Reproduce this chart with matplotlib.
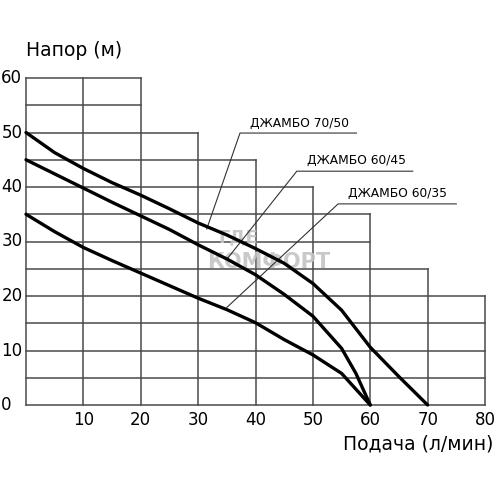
import matplotlib
matplotlib.use("Agg")
import matplotlib.pyplot as plt

# Grid staircase: top of each vertical grid line (x -> max head)
grid_x = [0, 10, 20, 30, 40, 50, 60, 70, 80]
grid_top = [60, 60, 60, 50, 45, 40, 35, 25, 20]
grid_y = [0, 5, 10, 15, 20, 25, 30, 35, 40, 45, 50, 55, 60]

x_tick_labels = ["10", "20", "30", "40", "50", "60", "70", "80"]
y_tick_labels = ["0", "10", "20", "30", "40", "50", "60"]

# Pump curves
q_7050 = [0, 5, 10, 15, 20, 25, 30, 35, 40, 45, 50, 55, 60, 65, 70]
h_7050 = [50, 46.3, 43.4, 40.8, 38.5, 36, 33.4, 31.2, 28.7, 26, 22.3, 17.4, 10.6, 5.2, 0]

q_6045 = [0, 5, 10, 15, 20, 25, 30, 35, 40, 45, 50, 55, 57.5, 60]
h_6045 = [45, 42.4, 39.8, 37.2, 34.7, 32.2, 29.4, 26.8, 23.9, 20.3, 16.3, 10.4, 5.8, 0]

q_6035 = [0, 5, 10, 15, 20, 25, 30, 35, 40, 45, 50, 55, 60]
h_6035 = [35, 31.8, 28.9, 26.5, 24.2, 21.9, 19.6, 17.5, 15.1, 12, 9.2, 5.8, 0]

labels = ["ДЖАМБО 70/50", "ДЖАМБО 60/45", "ДЖАМБО 60/35"]

fig = plt.figure(figsize=(4.96, 4.96), dpi=100)
ax = fig.add_axes([26/496, 91/496, 459/496, 327/496])
ax.set_xlim(0, 80)
ax.set_ylim(0, 60)
ax.axis("off")

gcol = "#4a4a4a"
for gx, top in zip(grid_x, grid_top):
    ax.plot([gx, gx], [0, top], color=gcol, lw=1.1, clip_on=False, zorder=1)
for gy in grid_y:
    ext = max(gx for gx, top in zip(grid_x, grid_top) if top >= gy)
    ax.plot([0, ext], [gy, gy], color=gcol, lw=1.1, clip_on=False, zorder=1)

# watermark
ax.text(33.5, 30.8, "ГДЕ", color="#c4c4c4", fontsize=13, fontweight="bold",
        ha="left", va="center", zorder=2, alpha=0.9)
ax.text(31.5, 26.2, "КОМФОРТ", color="#c4c4c4", fontsize=15, fontweight="bold",
        ha="left", va="center", zorder=2, alpha=0.9)

for q, h in [(q_7050, h_7050), (q_6045, h_6045), (q_6035, h_6035)]:
    ax.plot(q, h, color="black", lw=2.4, clip_on=False, zorder=3,
            solid_joinstyle="round", solid_capstyle="round")

# leader lines and labels
leaders = [
    ((31.5, 32.3), (37.3, 49.9), 57.6, 51.7),
    ((35.2, 27.0), (47.2, 42.9), 67.4, 44.8),
    ((35.0, 17.9), (54.4, 36.9), 75.0, 38.8),
]
for lab, (p0, p1, xend, ty) in zip(labels, leaders):
    ax.plot([p0[0], p1[0], xend], [p0[1], p1[1], p1[1]], color="#333333",
            lw=0.8, clip_on=False, zorder=2)
    ax.text(p1[0] + 1.8, ty, lab, fontsize=8.8, ha="left", va="center",
            color="black", zorder=4)

for i, lab in enumerate(x_tick_labels):
    ax.text((i + 1) * 10, -2.8, lab, fontsize=12, ha="center", va="center",
            color="black", clip_on=False)
for i, lab in enumerate(y_tick_labels):
    ax.text(-4.3, i * 10, lab, fontsize=12,
            ha="left", va="center", color="black", clip_on=False)

ax.text(0, 65.0, "Напор (м)", fontsize=13.5, ha="left", va="center", color="black")
ax.text(81.4, -7.2, "Подача (л/мин)", fontsize=13.5, ha="right", va="center", color="black")

fig.savefig("out.png", dpi=100)
